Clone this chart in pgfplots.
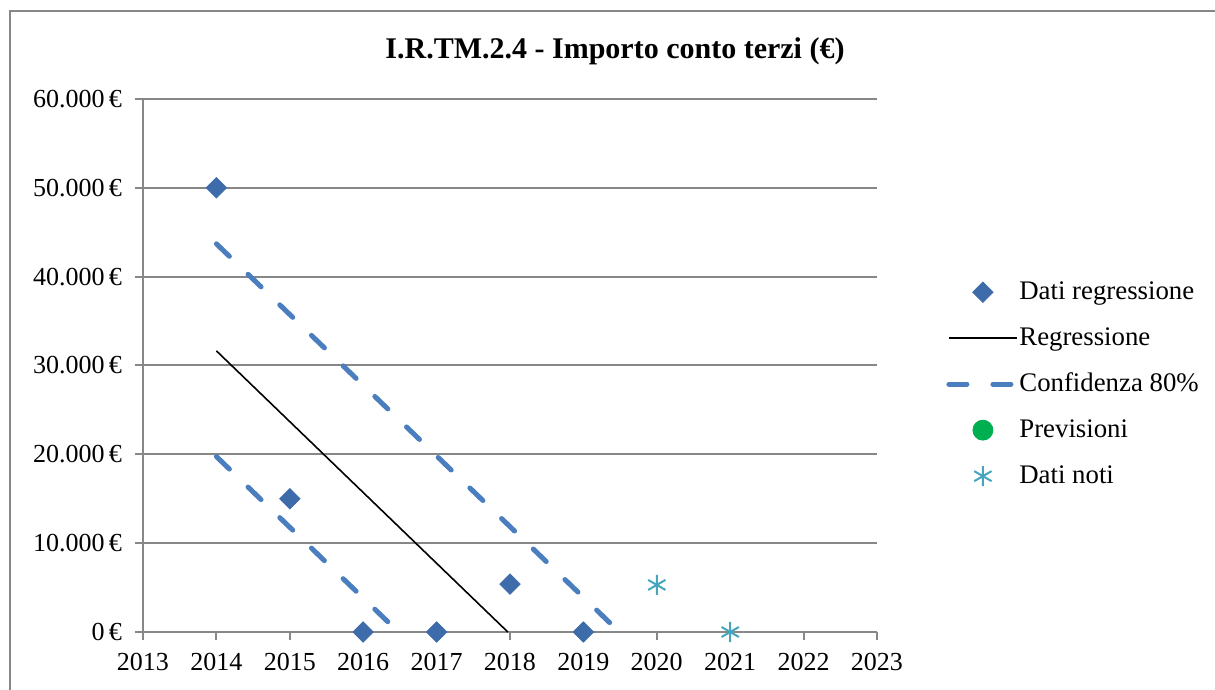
\documentclass[border=0pt]{standalone}
\usepackage{fontspec}
\setmainfont{Liberation Serif}
\usepackage{pgfplots}
\pgfplotsset{compat=1.18}
\definecolor{diam}{HTML}{3E6CAB}
\definecolor{dashc}{HTML}{4A7EBF}
\definecolor{astc}{HTML}{45A5BD}
\definecolor{greenc}{HTML}{00B050}
\definecolor{gridc}{HTML}{878787}
\begin{document}
\begin{tikzpicture}
\useasboundingbox (-71.5bp,-29bp) rectangle (536bp,316bp);
\draw[gridc, line width=1bp] (-66.5bp,-29bp) -- (-66.5bp,310.5bp) -- (536bp,310.5bp);
\begin{axis}[
  scale only axis,
  width=367bp, height=266.5bp,
  xmin=2013, xmax=2023, ymin=0, ymax=60000,
  scaled y ticks=false,
  axis x line*=bottom, axis y line*=left,
  axis line style={gridc, line width=1bp, -},
  xtick={2013,...,2023},
  xticklabels={2013,2014,2015,2016,2017,2018,2019,2020,2021,2022,2023},
  ytick={0,10000,20000,30000,40000,50000,60000},
  yticklabels={0\,€,10.000\,€,20.000\,€,30.000\,€,40.000\,€,50.000\,€,60.000\,€},
  tick align=outside,
  major tick length=4bp,
  tick style={gridc, line width=1bp},
  ymajorgrids,
  major grid style={gridc, line width=1bp},
  ticklabel style={font=\fontsize{13bp}{15bp}\selectfont, text=black},
  xticklabel style={yshift=-3bp},
  yticklabel style={xshift=-3bp},
  clip=false,
  legend cell align=left,
  legend image code/.code={\draw[mark repeat=2,mark phase=2,#1] plot coordinates {(0bp,0bp) (17bp,0bp) (34bp,0bp)};},
  legend style={draw=none, fill=none, at={(1.094,0.465)}, anchor=west,
    font=\fontsize{13.4bp}{15bp}\selectfont, row sep=10bp, inner sep=0pt,
    nodes={inner sep=0pt, text height=10bp, text depth=3bp},
    /tikz/every even column/.append style={column sep=9bp}},
]
\addplot[only marks, mark=square*, mark size=3.6bp, mark options={rotate=45, fill=diam, draw=diam}]
  coordinates {(2014,50000) (2015,15000) (2016,0) (2017,0) (2018,5400) (2019,0)};
\addlegendentry{Dati regressione}
\addplot[black, line width=0.8bp, no marks] coordinates {(2014,31650) (2017.97,0)};
\addlegendentry{Regressione}
\addplot[dashc, line width=2.5bp, line cap=round, dash pattern=on 9bp off 13bp, no marks]
  coordinates {(2014,43700) (2019.49,0)};
\addlegendentry{Confidenza 80\%}
\addplot[dashc, line width=2.5bp, line cap=round, dash pattern=on 9bp off 13bp, no marks, forget plot]
  coordinates {(2014,19750) (2016.48,0)};
\addlegendimage{only marks, mark=*, mark size=5bp, mark options={fill=greenc, draw=greenc}}
\addlegendentry{Previsioni}
\addplot[only marks, mark=asterisk, mark size=5bp, mark options={draw=astc, line width=1bp}]
  coordinates {(2020,5300) (2021,0)};
\addlegendentry{Dati noti}
\end{axis}
\node[font=\bfseries\fontsize{15bp}{17bp}\selectfont] at (236bp,290.5bp) {I.R.TM.2.4 - Importo conto terzi (€)};
\end{tikzpicture}
\end{document}
